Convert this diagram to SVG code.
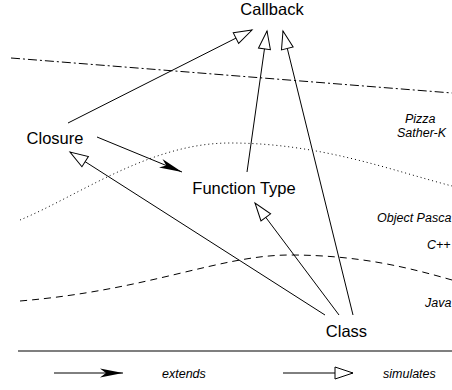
<svg xmlns="http://www.w3.org/2000/svg" width="452" height="390" viewBox="0 0 452 390">
<style>
.node{font-family:"Liberation Sans",Arial,sans-serif;font-size:16.5px;fill:#000;text-anchor:middle}
.lab{font-family:"Liberation Sans",Arial,sans-serif;font-size:12.5px;font-style:italic;fill:#000}
.c{stroke:#000;stroke-width:1;fill:none}
.sim{marker-end:url(#open)}
.ext{marker-end:url(#filled)}
</style>
<defs>
<marker id="open" markerUnits="userSpaceOnUse" markerWidth="20" markerHeight="14" refX="18" refY="7" orient="auto" overflow="visible">
<path d="M0,1 L18,7 L0,13 Z" fill="#fff" stroke="#000" stroke-width="1"/>
</marker>
<marker id="filled" markerUnits="userSpaceOnUse" markerWidth="24" markerHeight="12" refX="23" refY="5" orient="auto" overflow="visible">
<path d="M0,0.5 L23,5 L0,9.5 L6,5 Z" fill="#000"/>
</marker>
</defs>
<g id="regions" fill="none" stroke="#000" stroke-width="1">
<line x1="11" y1="58" x2="452" y2="93" stroke-dasharray="9,3,2,3"/>
<path d="M20,220 C80,195 150,143 230,143 C320,143 390,170 452,186" stroke-dasharray="1,3"/>
<path d="M20,301 C150,290 220,255 290,255 C360,255 410,268 452,280" stroke-dasharray="7,5"/>
<line x1="18" y1="351" x2="452" y2="351" stroke="#555" stroke-width="1.3"/>
</g>
<g id="languages" class="lab">
<text x="405" y="123">Pizza</text>
<text x="397" y="137">Sather-K</text>
<text x="377" y="222">Object Pasca</text>
<text x="427" y="249">C++</text>
<text x="425" y="307">Java</text>
</g>
<g id="connectors">
<line class="c sim" x1="68" y1="123" x2="252" y2="30"/>
<line class="c sim" x1="247" y1="172" x2="267" y2="31"/>
<line class="c sim" x1="353" y1="315" x2="283" y2="31"/>
<line class="c ext" x1="97" y1="137" x2="182" y2="172"/>
<line class="c sim" x1="325" y1="315" x2="70" y2="152"/>
<line class="c sim" x1="339" y1="315" x2="255" y2="203"/>
</g>
<g id="callback"><text class="node" x="272" y="15">Callback</text></g>
<g id="closure"><text class="node" x="55" y="144">Closure</text></g>
<g id="function-type"><text class="node" x="244" y="194">Function Type</text></g>
<g id="class"><text class="node" x="346.5" y="337">Class</text></g>
<g id="legend">
<line class="c ext" x1="54" y1="373" x2="123" y2="373"/>
<text class="lab" x="162" y="378">extends</text>
<line class="c sim" x1="283" y1="373" x2="353" y2="373"/>
<text class="lab" x="383" y="378">simulates</text>
</g>
</svg>
